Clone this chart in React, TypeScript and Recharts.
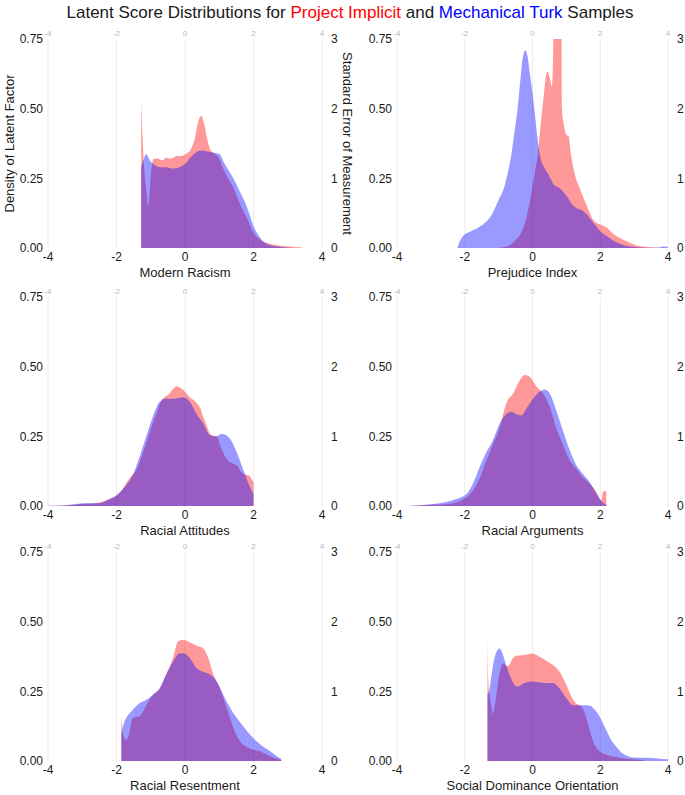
import { AreaChart, Area, XAxis, YAxis, CartesianGrid } from "recharts";

// [latent score, density]
type Pt = [number, number];

const xTicks = [-4, -2, 0, 2, 4];
const densityTicks = [0, 0.25, 0.5, 0.75];
const seTicks = [0, 1, 2, 3];

const modernRacismPI: Pt[] = [
  [-1.28, 0.53], [-1.24, 0.4], [-1.2, 0.3], [-1.14, 0.22], [-1.07, 0.15], [-1.0, 0.26],
  [-0.92, 0.32], [-0.8, 0.32], [-0.65, 0.315], [-0.55, 0.325], [-0.4, 0.32], [-0.25, 0.33],
  [-0.1, 0.33], [0.05, 0.34], [0.15, 0.35], [0.28, 0.39], [0.38, 0.45], [0.47, 0.475],
  [0.55, 0.45], [0.65, 0.39], [0.75, 0.35], [0.85, 0.34], [1.0, 0.32], [1.1, 0.29],
  [1.25, 0.25], [1.4, 0.22], [1.6, 0.16], [1.8, 0.11], [2.0, 0.055], [2.2, 0.03],
  [2.4, 0.018], [2.7, 0.01], [3.0, 0.006], [3.2, 0.004], [3.42, 0.002],
];
const modernRacismMT: Pt[] = [
  [-1.28, 0.29], [-1.2, 0.32], [-1.14, 0.336], [-1.07, 0.325], [-1.0, 0.31], [-0.9, 0.3],
  [-0.75, 0.29], [-0.55, 0.29], [-0.35, 0.285], [-0.16, 0.29], [0.04, 0.306], [0.2, 0.33],
  [0.35, 0.345], [0.5, 0.35], [0.7, 0.345], [0.85, 0.342], [1.02, 0.336], [1.12, 0.31],
  [1.22, 0.29], [1.41, 0.25], [1.61, 0.2], [1.8, 0.15], [1.9, 0.115], [2.0, 0.078],
  [2.1, 0.055], [2.2, 0.036], [2.39, 0.014], [2.6, 0.007], [2.8, 0.004], [3.08, 0.001],
];

const prejudicePI: Pt[] = [
  [-1.2, 0], [-0.9, 0.002], [-0.73, 0.006], [-0.54, 0.024], [-0.34, 0.054], [-0.2, 0.1],
  [-0.05, 0.185], [0.05, 0.26], [0.15, 0.33], [0.24, 0.44], [0.34, 0.556], [0.4, 0.62],
  [0.44, 0.634], [0.51, 0.61], [0.57, 0.58], [0.61, 0.7], [0.63, 0.95], [0.85, 0.95],
  [0.87, 0.5], [0.93, 0.44], [0.98, 0.41], [1.02, 0.405], [1.07, 0.4], [1.12, 0.35],
  [1.22, 0.28], [1.41, 0.21], [1.61, 0.15], [1.8, 0.1], [2.0, 0.084], [2.2, 0.072],
  [2.35, 0.055], [2.49, 0.042], [2.78, 0.024], [3.0, 0.012], [3.17, 0.006], [3.46, 0.003],
  [3.8, 0.001],
];
const prejudiceMT: Pt[] = [
  [-2.22, 0], [-2.1, 0.035], [-2.0, 0.048], [-1.85, 0.058], [-1.71, 0.066], [-1.55, 0.077],
  [-1.41, 0.09], [-1.25, 0.11], [-1.12, 0.14], [-0.97, 0.18], [-0.83, 0.22], [-0.73, 0.27],
  [-0.63, 0.33], [-0.53, 0.42], [-0.44, 0.5], [-0.36, 0.6], [-0.29, 0.68], [-0.21, 0.71],
  [-0.15, 0.69], [-0.08, 0.63], [0, 0.556], [0.08, 0.47], [0.15, 0.39], [0.24, 0.32],
  [0.34, 0.29], [0.44, 0.27], [0.55, 0.245], [0.63, 0.227], [0.75, 0.218], [0.83, 0.212],
  [0.92, 0.2], [1.02, 0.185], [1.12, 0.165], [1.22, 0.15], [1.32, 0.142], [1.41, 0.138],
  [1.52, 0.13], [1.61, 0.12], [1.7, 0.105], [1.8, 0.09], [1.9, 0.075], [2.0, 0.06],
  [2.1, 0.05], [2.2, 0.042], [2.35, 0.03], [2.49, 0.02], [2.7, 0.01], [2.88, 0.005],
  [3.2, 0.002], [3.5, 0.001], [3.75, 0.002], [3.85, 0.005], [4.0, 0.004],
];

const attitudesPI: Pt[] = [
  [-4, 0.001], [-3.5, 0.002], [-3, 0.007], [-2.5, 0.013], [-2.2, 0.025], [-2.0, 0.037],
  [-1.82, 0.06], [-1.7, 0.085], [-1.62, 0.1], [-1.43, 0.127], [-1.33, 0.155], [-1.23, 0.19],
  [-1.04, 0.26], [-0.84, 0.33], [-0.7, 0.375], [-0.6, 0.39], [-0.45, 0.404], [-0.35, 0.42],
  [-0.25, 0.43], [-0.15, 0.425], [-0.05, 0.416], [0.14, 0.39], [0.34, 0.37], [0.45, 0.35],
  [0.53, 0.32], [0.63, 0.29], [0.73, 0.26], [0.85, 0.25], [0.93, 0.25], [1.02, 0.22],
  [1.12, 0.19], [1.22, 0.168], [1.32, 0.157], [1.45, 0.15], [1.52, 0.145], [1.62, 0.125],
  [1.71, 0.115], [1.86, 0.11], [1.95, 0.095], [2.0, 0.085],
];
const attitudesMT: Pt[] = [
  [-4, 0.001], [-3.5, 0.003], [-3.1, 0.008], [-3.0, 0.01], [-2.5, 0.01], [-2.2, 0.025],
  [-2.02, 0.037], [-1.82, 0.06], [-1.53, 0.11], [-1.33, 0.175], [-1.13, 0.25], [-0.94, 0.32],
  [-0.74, 0.374], [-0.55, 0.386], [-0.4, 0.385], [-0.25, 0.386], [-0.05, 0.39], [0.14, 0.374],
  [0.34, 0.33], [0.53, 0.296], [0.73, 0.254], [0.93, 0.25], [1.05, 0.258], [1.15, 0.257],
  [1.32, 0.24], [1.52, 0.19], [1.71, 0.127], [1.9, 0.067], [2.0, 0.043],
];

const argumentsPI: Pt[] = [
  [-3.72, 0], [-3.23, 0.003], [-2.74, 0.005], [-2.25, 0.013], [-1.95, 0.031], [-1.76, 0.055],
  [-1.56, 0.1], [-1.36, 0.163], [-1.17, 0.22], [-0.97, 0.28], [-0.77, 0.37], [-0.57, 0.404],
  [-0.38, 0.45], [-0.23, 0.47], [-0.08, 0.464], [0.11, 0.43], [0.31, 0.404], [0.51, 0.356],
  [0.7, 0.28], [0.9, 0.22], [1.1, 0.163], [1.3, 0.133], [1.49, 0.103], [1.69, 0.08],
  [1.89, 0.05], [2.03, 0.02], [2.08, 0.05], [2.18, 0.055],
];
const argumentsMT: Pt[] = [
  [-3.72, 0], [-3.23, 0.004], [-2.74, 0.01], [-2.25, 0.025], [-1.95, 0.043], [-1.76, 0.08],
  [-1.56, 0.14], [-1.36, 0.194], [-1.17, 0.235], [-0.97, 0.296], [-0.77, 0.33], [-0.62, 0.338],
  [-0.48, 0.33], [-0.33, 0.325], [-0.18, 0.35], [0.02, 0.386], [0.21, 0.41], [0.36, 0.418],
  [0.51, 0.404], [0.7, 0.344], [0.9, 0.27], [1.1, 0.2], [1.3, 0.145], [1.49, 0.115],
  [1.69, 0.085], [1.89, 0.043], [2.08, 0.013], [2.18, 0.005],
];

const resentmentPI: Pt[] = [
  [-1.86, 0.16], [-1.8, 0.093], [-1.72, 0.075], [-1.65, 0.09], [-1.53, 0.153], [-1.43, 0.158],
  [-1.33, 0.16], [-1.13, 0.2], [-0.94, 0.237], [-0.74, 0.26], [-0.55, 0.31], [-0.35, 0.37],
  [-0.2, 0.43], [-0.05, 0.435], [0.14, 0.426], [0.34, 0.414], [0.53, 0.405], [0.68, 0.37],
  [0.83, 0.31], [1.02, 0.26], [1.22, 0.19], [1.42, 0.117], [1.61, 0.07], [1.81, 0.05],
  [2.0, 0.04], [2.2, 0.034], [2.4, 0.022], [2.59, 0.012], [2.81, 0.004],
];
const resentmentMT: Pt[] = [
  [-1.86, 0.093], [-1.8, 0.13], [-1.72, 0.153], [-1.53, 0.183], [-1.33, 0.207], [-1.13, 0.22],
  [-0.94, 0.237], [-0.74, 0.26], [-0.55, 0.31], [-0.35, 0.357], [-0.15, 0.387], [-0.05, 0.387],
  [0.14, 0.37], [0.34, 0.333], [0.53, 0.32], [0.73, 0.31], [0.93, 0.285], [1.12, 0.237],
  [1.32, 0.19], [1.52, 0.153], [1.71, 0.123], [1.91, 0.093], [2.1, 0.07], [2.3, 0.05],
  [2.5, 0.034], [2.69, 0.016], [2.81, 0.008],
];

const sdoPI: Pt[] = [
  [-1.33, 0.45], [-1.31, 0.3], [-1.28, 0.25], [-1.22, 0.2], [-1.17, 0.17], [-1.1, 0.21],
  [-1.02, 0.28], [-0.94, 0.33], [-0.86, 0.35], [-0.76, 0.34], [-0.68, 0.345], [-0.6, 0.365],
  [-0.46, 0.378], [-0.27, 0.38], [-0.02, 0.386], [0.2, 0.375], [0.41, 0.36], [0.6, 0.345],
  [0.8, 0.32], [1.0, 0.273], [1.2, 0.22], [1.3, 0.205], [1.39, 0.2], [1.5, 0.185],
  [1.59, 0.153], [1.69, 0.11], [1.79, 0.07], [1.9, 0.045], [1.98, 0.034], [2.18, 0.022],
  [2.57, 0.012], [2.97, 0.006], [3.3, 0.002],
];
const sdoMT: Pt[] = [
  [-1.33, 0.24], [-1.28, 0.25], [-1.22, 0.3], [-1.14, 0.36], [-1.05, 0.395], [-0.97, 0.404],
  [-0.9, 0.39], [-0.83, 0.365], [-0.76, 0.338], [-0.68, 0.31], [-0.61, 0.29], [-0.46, 0.267],
  [-0.35, 0.272], [-0.27, 0.279], [-0.02, 0.285], [0.2, 0.283], [0.41, 0.28], [0.6, 0.28],
  [0.8, 0.26], [1.0, 0.225], [1.2, 0.2], [1.39, 0.2], [1.59, 0.2], [1.72, 0.198],
  [1.79, 0.19], [1.9, 0.175], [1.98, 0.16], [2.1, 0.13], [2.18, 0.11], [2.3, 0.08],
  [2.48, 0.05], [2.6, 0.033], [2.77, 0.02], [3.0, 0.013], [3.4, 0.012], [3.7, 0.009],
  [4.0, 0.006],
];

const font = '"Liberation Sans", Arial, Helvetica, sans-serif';
const ink = "#1a1a1a";
const PI_COLOR = "#ff0000";
const MT_COLOR = "#0000ff";

const toRows = (pts: Pt[]) => pts.map(([x, y]) => ({ x, y }));

interface PanelProps {
  title: string;
  pi: Pt[];
  mt: Pt[];
  left: number;
  top: number;
  first?: boolean;
}

function Panel({ title, pi, mt, left, top, first }: PanelProps) {
  // first column plots are 274px wide, second column 271px
  const plotW = left === 0 ? 274 : 271;
  const rightW = first ? 38 : left === 0 ? 18 : 17;
  const piRows = toRows(pi);
  return (
    <div style={{ position: "absolute", left, top }}>
      <AreaChart width={48 + plotW + rightW} height={261} margin={{ top: 0, right: 0, bottom: 0, left: 0 }}>
        <CartesianGrid vertical horizontal={false} stroke="#ebebeb" />
        <XAxis
          dataKey="x"
          type="number"
          domain={[-4, 4]}
          ticks={xTicks}
          allowDataOverflow
          axisLine={false}
          tickLine={false}
          tickSize={2}
          tickMargin={2}
          height={32}
          tick={{ fontSize: 12, fill: ink }}
          label={{ value: title, position: "insideBottom", offset: 3, fill: ink, fontSize: 13 }}
        />
        <XAxis
          xAxisId="top"
          orientation="top"
          dataKey="x"
          type="number"
          domain={[-4, 4]}
          ticks={xTicks}
          allowDataOverflow
          includeHidden
          axisLine={false}
          tickLine={false}
          tickSize={1}
          tickMargin={2}
          height={20}
          tick={{ fontSize: 8, fill: "#b8b8b8" }}
        />
        <YAxis
          type="number"
          domain={[0, 0.75]}
          ticks={densityTicks}
          allowDataOverflow
          axisLine={false}
          tickLine={false}
          tickSize={3}
          tickMargin={2}
          width={48}
          tick={{ fontSize: 12, fill: ink }}
          tickFormatter={(v: number) => v.toFixed(2)}
          label={
            first
              ? {
                  value: "Density of Latent Factor",
                  angle: -90,
                  position: "insideLeft",
                  offset: 9,
                  fill: ink,
                  fontSize: 13,
                  style: { textAnchor: "middle" },
                }
              : undefined
          }
        />
        <YAxis
          yAxisId="right"
          orientation="right"
          type="number"
          domain={[0, 3]}
          ticks={seTicks}
          allowDataOverflow
          includeHidden
          axisLine={false}
          tickLine={false}
          tickSize={7}
          tickMargin={2}
          width={rightW}
          tick={{ fontSize: 12, fill: ink }}
          label={
            first
              ? {
                  value: "Standard Error of Measurement",
                  angle: 90,
                  position: "insideRight",
                  offset: 12,
                  fill: ink,
                  fontSize: 13,
                  style: { textAnchor: "middle" },
                }
              : undefined
          }
        />
        {/* hidden series so the secondary (top / right) axes get a scale */}
        <Area
          hide
          xAxisId="top"
          yAxisId="right"
          data={piRows}
          dataKey="y"
          isAnimationActive={false}
        />
        <Area
          data={piRows}
          dataKey="y"
          type="monotone"
          fill={PI_COLOR}
          fillOpacity={0.4}
          stroke="none"
          isAnimationActive={false}
        />
        <Area
          data={toRows(mt)}
          dataKey="y"
          type="monotone"
          fill={MT_COLOR}
          fillOpacity={0.4}
          stroke="none"
          isAnimationActive={false}
        />
      </AreaChart>
    </div>
  );
}

export default function App() {
  return (
    <div style={{ position: "relative", width: 685, height: 795, background: "#fff", fontFamily: font, overflow: "hidden" }}>
      <style>{`body{margin:0}`}</style>
      <svg width={685} height={26} style={{ position: "absolute", left: 0, top: 0 }}>
        <text x={350} y={18} textAnchor="middle" fontSize={17} fill={ink}>
          Latent Score Distributions for <tspan fill={PI_COLOR}>Project Implicit</tspan> and{" "}
          <tspan fill={MT_COLOR}>Mechanical Turk</tspan> Samples
        </text>
      </svg>
      <Panel title="Modern Racism" pi={modernRacismPI} mt={modernRacismMT} left={0} top={19} first />
      <Panel title="Prejudice Index" pi={prejudicePI} mt={prejudiceMT} left={349} top={19} />
      <Panel title="Racial Attitudes" pi={attitudesPI} mt={attitudesMT} left={0} top={277} />
      <Panel title="Racial Arguments" pi={argumentsPI} mt={argumentsMT} left={349} top={277} />
      <Panel title="Racial Resentment" pi={resentmentPI} mt={resentmentMT} left={0} top={532} />
      <Panel title="Social Dominance Orientation" pi={sdoPI} mt={sdoMT} left={349} top={532} />
    </div>
  );
}
